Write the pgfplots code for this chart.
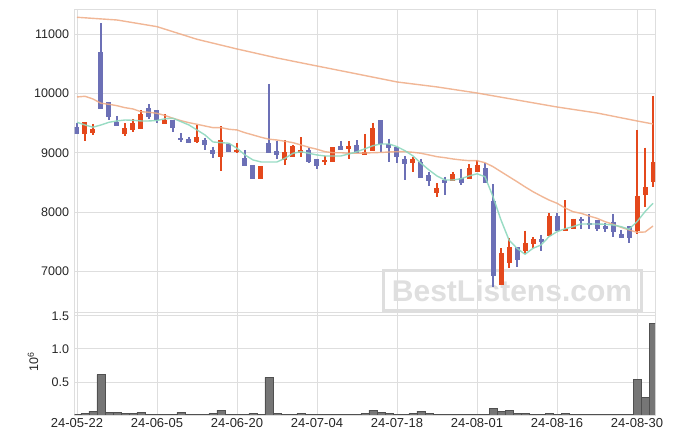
\documentclass[border=0pt]{standalone}
\usepackage{fontspec}
\setmainfont{Liberation Sans}
\usepackage{pgfplots}
\usepackage{pgfplotstable}
\pgfplotsset{compat=1.18}

\definecolor{upred}{RGB}{228,72,28}
\definecolor{dnblue}{RGB}{108,112,182}
\definecolor{magreen}{RGB}{142,216,190}
\definecolor{maorange}{RGB}{238,170,132}
\definecolor{gridgray}{RGB}{222,222,222}
\definecolor{volfill}{RGB}{118,118,118}
\definecolor{voldraw}{RGB}{80,80,80}

% rising days (red)
\pgfplotstableread{
i o h l c
1 9313 9515 9200 9515
2 9340 9486 9296 9402
6 9313 9498 9289 9414
7 9390 9565 9346 9503
8 9407 9717 9407 9655
11 9491 9650 9491 9559
15 9183 9469 9171 9267
18 8935 9447 8694 9211
20 9014 9161 8992 9048
23 8554 8778 8554 8778
26 8880 9216 8790 9014
27 8935 9138 8935 9115
28 9003 9262 8935 9048
31 8846 8952 8790 8880
32 8851 9098 8851 9098
34 9065 9200 8901 9115
36 8969 9318 8969 9014
37 9036 9508 9036 9419
42 8834 8925 8677 8896
45 8329 8487 8261 8408
47 8531 8677 8531 8644
49 8554 8807 8554 8739
50 8672 8880 8672 8795
53 6773 7391 6773 7307
54 7139 7560 7055 7408
56 7351 7688 7296 7476
57 7464 7577 7391 7543
59 7599 7981 7599 7936
61 7688 8205 7688 7717
62 7722 7891 7722 7891
70 7688 9385 7633 8273
71 8285 9087 8093 8420
72 8514 9960 8420 8846
}\upcandles

% falling days (blue)
\pgfplotstableread{
i o h l c
0 9431 9498 9312 9312
3 10694 11183 9734 9734
4 9852 9852 9553 9599
5 9520 9621 9457 9457
9 9756 9818 9570 9609
10 9717 9717 9498 9559
12 9553 9553 9356 9414
13 9250 9329 9188 9216
14 9233 9262 9161 9171
16 9216 9255 9043 9137
17 9048 9104 8908 8986
19 9144 9161 9019 9019
21 8908 9048 8783 8783
22 8795 8795 8554 8554
24 9166 10160 8992 9003
25 9031 9200 8901 8969
29 9048 9076 8824 8846
30 8896 8896 8723 8783
33 9115 9200 9048 9048
35 9132 9216 8992 8992
38 9553 9553 9019 9144
39 9144 9239 8846 9087
40 9098 9098 8824 8935
41 8896 8947 8542 8817
43 8851 8901 8582 8582
44 8622 8683 8441 8531
46 8542 8598 8290 8497
48 8571 8733 8458 8487
51 8739 8824 8487 8487
52 8189 8470 6745 6925
55 7408 7408 7082 7194
58 7543 7616 7351 7503
60 7936 7981 7683 7683
63 7885 7914 7712 7852
64 7818 7964 7722 7779
65 7868 7868 7688 7712
66 7773 7823 7671 7722
67 7835 7970 7587 7671
68 7633 7700 7570 7570
69 7768 7768 7486 7560
}\dncandles

% short moving average
\pgfplotstableread{
i m
0 9515
1 9469
2 9432
3 9469
4 9515
5 9537
6 9553
7 9548
8 9537
9 9537
10 9545
11 9574
12 9582
13 9525
14 9469
15 9385
16 9301
17 9183
18 9171
19 9161
20 9077
21 8964
22 8880
23 8846
24 8846
25 8846
26 8908
27 8992
28 9019
29 8992
30 8964
31 8947
32 8947
33 8947
34 8981
35 9019
36 9068
37 9120
38 9149
39 9149
40 9104
41 9036
42 8947
43 8824
44 8711
45 8610
46 8542
47 8542
48 8564
49 8610
50 8647
51 8598
52 8261
53 7868
54 7531
55 7391
56 7291
57 7391
58 7447
59 7587
60 7671
61 7720
62 7756
63 7801
64 7801
65 7801
66 7796
67 7784
68 7756
69 7712
70 7840
71 8008
72 8150
}\mashort

% middle moving average
\pgfplotstableread{
i m
0 9941
1 9953
2 9907
3 9835
4 9818
5 9794
6 9761
7 9739
8 9693
9 9683
10 9666
11 9629
12 9582
13 9542
14 9508
15 9481
16 9452
17 9424
18 9424
19 9397
20 9385
21 9339
22 9301
23 9262
24 9230
25 9216
26 9195
27 9171
28 9132
29 9093
30 9060
31 9019
32 9002
33 9002
34 8992
35 8992
36 8997
37 9002
38 9006
39 9014
40 9019
41 9019
42 9009
43 8992
44 8964
45 8935
46 8918
47 8896
48 8880
49 8868
50 8868
51 8834
52 8767
53 8682
54 8598
55 8514
56 8427
57 8345
58 8273
59 8205
60 8150
61 8071
62 8008
63 7981
64 7936
65 7897
66 7840
67 7796
68 7745
69 7700
70 7661
71 7666
72 7767
}\mamid

% long moving average
\pgfplotstableread{
i m
0 11284
5 11238
10 11126
15 10913
20 10750
25 10598
30 10463
35 10329
40 10194
45 10110
50 10008
55 9890
60 9772
65 9671
70 9537
72 9486
}\malong

% volume, millions
\pgfplotstableread{
i v
0 0.01
1 0.025
2 0.06
3 0.61
4 0.04
5 0.04
6 0.025
7 0.025
8 0.04
9 0.01
10 0.01
11 0.004
12 0.01
13 0.04
14 0.01
15 0.01
16 0.01
17 0.025
18 0.075
19 0.01
20 0.01
21 0.01
22 0.025
23 0.01
24 0.57
25 0.025
26 0.01
27 0.01
28 0.025
29 0.01
30 0.01
31 0.01
32 0.01
33 0.01
34 0.01
35 0.01
36 0.025
37 0.075
38 0.04
39 0.025
40 0.01
41 0.01
42 0.025
43 0.06
44 0.025
45 0.01
46 0.004
47 0.01
48 0.01
49 0.01
50 0.01
51 0.01
52 0.1
53 0.06
54 0.075
55 0.025
56 0.025
57 0.004
58 0.01
59 0.025
60 0.01
61 0.025
62 0.004
63 0.01
64 0.01
65 0.004
66 0.01
67 0.01
68 0.004
69 0.01
70 0.54
71 0.27
72 1.38
}\volume

\pgfplotsset{
  panel/.style={
    scale only axis, width=580.5pt, anchor=south west,
    xmin=-0.31, xmax=72.25,
    axis line style={gridgray},
    grid=major, grid style={gridgray, line width=0.8pt},
    tick style={draw=none}, major tick length=0pt,
    xtick={0,10,...,70},
    scaled ticks=false,
    tick label style={font=\fontsize{12.5}{14}\selectfont, text=black!85},
    /pgf/number format/assume math mode=true,
  },
  wick/.style={draw=none, no markers, forget plot,
    error bars/.cd, y dir=minus, y explicit, error mark=none,
    error bar style={draw=#1, line width=1.2pt}},
  body/.style={draw=none, no markers, forget plot,
    error bars/.cd, y dir=minus, y explicit, error mark=none,
    error bar style={draw=#1, line width=5pt}},
}

\begin{document}
\begin{tikzpicture}
\useasboundingbox (0pt,0pt) rectangle (675pt,444pt);

% watermark
\draw[gridgray, line width=3pt] (383pt,133pt) rectangle (641pt,173pt);
\node[text=gray!25, font=\bfseries\fontsize{30}{30}\selectfont] at (512pt,153pt) {BestListens.com};

\begin{axis}[panel, at={(74.5pt,132pt)}, height=302.5pt,
  ymin=6318, ymax=11415,
  ytick={7000,8000,9000,10000,11000},
  xticklabels={},
  yticklabel style={xshift=-2pt, /pgf/number format/1000 sep={}},
]
\addplot[wick=dnblue] table[x=i, y=h, y error expr=\thisrow{h}-\thisrow{l}] {\dncandles};
\addplot[body=dnblue] table[x=i, y=o, y error expr=\thisrow{o}-\thisrow{c}] {\dncandles};
\addplot[wick=upred] table[x=i, y=h, y error expr=\thisrow{h}-\thisrow{l}] {\upcandles};
\addplot[body=upred] table[x=i, y=c, y error expr=\thisrow{c}-\thisrow{o}] {\upcandles};

\addplot[maorange, line width=1.4pt, opacity=0.85] table[x=i, y=m] {\malong};
\addplot[maorange, line width=1.4pt, opacity=0.85] table[x=i, y=m] {\mamid};
\addplot[magreen, line width=1.4pt, opacity=0.9] table[x=i, y=m] {\mashort};
\end{axis}

\begin{axis}[panel, at={(74.5pt,29pt)}, height=102.5pt,
  ymin=0, ymax=1.55,
  ytick={0.5,1.0,1.5},
  yticklabel style={xshift=-2pt, /pgf/number format/.cd, fixed, fixed zerofill, precision=1},
  xticklabels={24-05-22,24-06-05,24-06-20,24-07-04,24-07-18,24-08-01,24-08-16,24-08-30},
  xticklabel style={font=\fontsize{13}{15}\selectfont},
  ybar, bar width=1,
]
\addplot[fill=volfill, draw=voldraw, line width=0.5pt] table[x=i, y=v] {\volume};
\end{axis}

\node[rotate=90, text=black!85, font=\fontsize{12.5}{14}\selectfont] at (33pt,82pt) {10\textsuperscript{6}};
\end{tikzpicture}
\end{document}
